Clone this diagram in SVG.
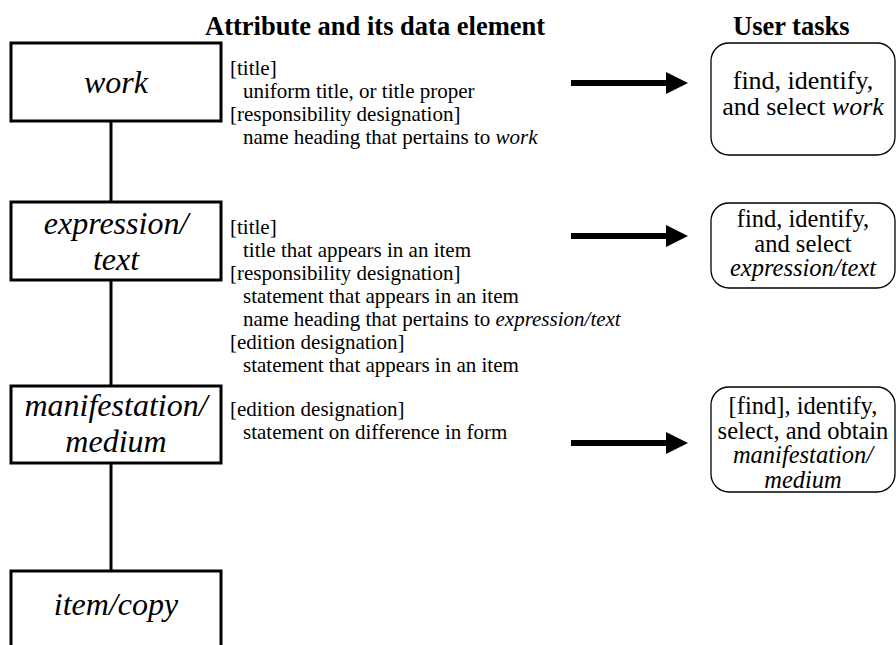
<svg xmlns="http://www.w3.org/2000/svg" width="896" height="645" viewBox="0 0 896 645">
<style>
text{font-family:'Liberation Serif','Times New Roman',serif}
.ent{fill:#fff;stroke:#000;stroke-width:3}
.task{fill:#fff;stroke:#000;stroke-width:1.3}
.et{font-style:italic;font-size:32px;text-anchor:middle}
.tt{font-size:26px;text-anchor:middle}
.ts{font-size:24.5px;text-anchor:middle}
.bt{font-size:21px}
.hd{font-size:26.5px;font-weight:bold}
.it{font-style:italic}
.ln{stroke:#000;stroke-width:3}
.ar{stroke:#000;stroke-width:6}
</style>
<defs>
<marker id="ah" markerUnits="userSpaceOnUse" markerWidth="24" markerHeight="24" refX="0" refY="11" orient="auto">
<path d="M0,0 L22,11 L0,22 Z" fill="#000"/>
</marker>
</defs>
<text class="hd" x="205" y="35">Attribute and its data element</text>
<text class="hd" x="733" y="35">User tasks</text>
<g id="connectors">
<line class="ln" x1="111" y1="121" x2="111" y2="202"/>
<line class="ln" x1="111" y1="280" x2="111" y2="386"/>
<line class="ln" x1="111" y1="463" x2="111" y2="571"/>
<line class="ar" x1="571" y1="83" x2="666" y2="83" marker-end="url(#ah)"/>
<line class="ar" x1="571" y1="236" x2="666" y2="236" marker-end="url(#ah)"/>
<line class="ar" x1="571" y1="443" x2="666" y2="443" marker-end="url(#ah)"/>
</g>
<g id="work">
<rect class="ent" x="11" y="43" width="210" height="78"/>
<text class="et" x="116" y="93">work</text>
</g>
<g id="expression">
<rect class="ent" x="11" y="202" width="210" height="78"/>
<text class="et" x="116" y="234">expression/<tspan x="116" dy="36">text</tspan></text>
</g>
<g id="manifestation">
<rect class="ent" x="11" y="386" width="210" height="77"/>
<text class="et" x="116" y="416">manifestation/<tspan x="116" dy="36">medium</tspan></text>
</g>
<g id="item">
<rect class="ent" x="11" y="571" width="210" height="100"/>
<text class="et" x="116" y="615">item/copy</text>
</g>
<g id="attr-work">
<text class="bt" x="230" y="75">[title]<tspan x="243" dy="23">uniform title, or title proper</tspan><tspan x="230" dy="23">[responsibility designation]</tspan><tspan x="243" dy="23">name heading that pertains to </tspan><tspan class="it">work</tspan></text>
</g>
<g id="attr-expression">
<text class="bt" x="230" y="234">[title]<tspan x="243" dy="23">title that appears in an item</tspan><tspan x="230" dy="23">[responsibility designation]</tspan><tspan x="243" dy="23">statement that appears in an item</tspan><tspan x="243" dy="23">name heading that pertains to </tspan><tspan class="it">expression/text</tspan><tspan x="230" dy="23">[edition designation]</tspan><tspan x="243" dy="23">statement that appears in an item</tspan></text>
</g>
<g id="attr-manifestation">
<text class="bt" x="230" y="416">[edition designation]<tspan x="243" dy="23">statement on difference in form</tspan></text>
</g>
<g id="task-work">
<rect class="task" x="711" y="43" width="184" height="112" rx="18"/>
<text class="tt" x="803" y="89">find, identify,<tspan x="803" dy="26">and select </tspan><tspan class="it">work</tspan></text>
</g>
<g id="task-expression">
<rect class="task" x="711" y="203" width="184" height="85" rx="18"/>
<text class="ts" x="803" y="227">find, identify,<tspan x="803" dy="24.5">and select</tspan><tspan x="803" dy="24.5" class="it">expression/text</tspan></text>
</g>
<g id="task-manifestation">
<rect class="task" x="711" y="387" width="184" height="105" rx="18"/>
<text class="ts" x="803" y="414">[find], identify,<tspan x="803" dy="24.5">select, and obtain</tspan><tspan x="803" dy="24.5" class="it">manifestation/</tspan><tspan x="803" dy="24.5" class="it">medium</tspan></text>
</g>
</svg>
